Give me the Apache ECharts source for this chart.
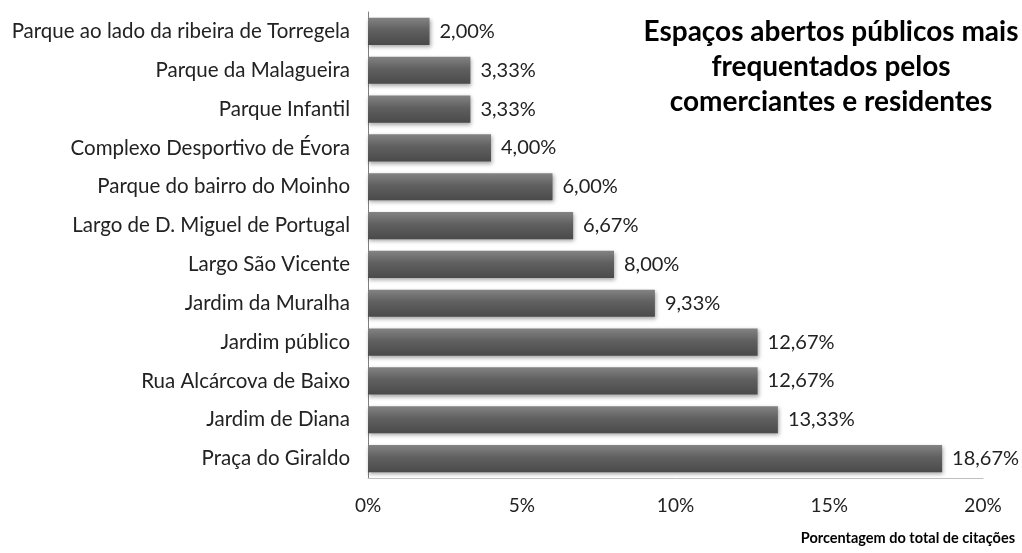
<!DOCTYPE html>
<html>
<head>
<meta charset="utf-8">
<script src="https://cdn.jsdelivr.net/npm/echarts@6/dist/echarts.min.js"></script>
<style>
  html, body { margin: 0; padding: 0; background: #fff; }
  #chart { width: 1022px; height: 553px; }
</style>
</head>
<body>
<div id="chart"></div>
<script>
// Places, listed top to bottom
const places = [
  'Parque ao lado da ribeira de Torregela',
  'Parque da Malagueira',
  'Parque Infantil',
  'Complexo Desportivo de Évora',
  'Parque do bairro do Moinho',
  'Largo de D. Miguel de Portugal',
  'Largo São Vicente',
  'Jardim da Muralha',
  'Jardim público',
  'Rua Alcárcova de Baixo',
  'Jardim de Diana',
  'Praça do Giraldo'
];
// Share of all mentions (%)
const shares = [2.00, 3.33, 3.33, 4.00, 6.00, 6.67, 8.00, 9.33, 12.67, 12.67, 13.33, 18.67];
const titleLines = ['Espaços abertos públicos mais', 'frequentados pelos', 'comerciantes e residentes'];
const axisTitle = 'Porcentagem do total de citações';

const FONT = 'Lato, "Open Sans", sans-serif';
const fmt = v => v.toFixed(2).replace('.', ',') + '%';

const chart = echarts.init(document.getElementById('chart'), null, { renderer: 'canvas' });
chart.setOption({
  animation: false,
  backgroundColor: '#ffffff',
  title: {
    text: titleLines.join('\n'),
    left: 826,
    top: 9,
    textAlign: 'center',
    textStyle: { fontFamily: FONT, fontSize: 28, fontWeight: 'bold', color: '#000', lineHeight: 35 }
  },
  graphic: [{
    type: 'text',
    right: 7,
    top: 531,
    style: { text: axisTitle, font: 'bold 14.5px ' + FONT, fill: '#000' }
  }],
  grid: { left: 368, right: 39, top: 12, bottom: 75, containLabel: false },
  xAxis: {
    type: 'value',
    min: 0,
    max: 20,
    interval: 5,
    axisLine: { show: true, lineStyle: { color: '#bfbfbf', width: 1 } },
    axisTick: { show: false },
    splitLine: { show: false },
    axisLabel: {
      margin: 18,
      formatter: v => v + '%',
      fontFamily: FONT, fontSize: 19, color: '#222'
    }
  },
  yAxis: {
    type: 'category',
    data: places,
    inverse: true,
    axisLine: { show: true, lineStyle: { color: '#7f7f7f', width: 1 } },
    axisTick: { show: false },
    axisLabel: { margin: 18, fontFamily: FONT, fontSize: 20.5, color: '#222' }
  },
  series: [{
    type: 'bar',
    data: shares,
    barCategoryGap: '30%',
    itemStyle: {
      color: new echarts.graphic.LinearGradient(0, 0, 0, 1, [
        { offset: 0, color: '#838383' },
        { offset: 0.45, color: '#606060' },
        { offset: 1, color: '#4a4a4a' }
      ]),
      shadowColor: 'rgba(0,0,0,0.35)',
      shadowBlur: 4,
      shadowOffsetX: 1,
      shadowOffsetY: 2
    },
    label: {
      show: true,
      position: 'right',
      distance: 10,
      formatter: p => fmt(p.value),
      fontFamily: FONT, fontSize: 20, color: '#222'
    }
  }]
});
</script>
</body>
</html>
